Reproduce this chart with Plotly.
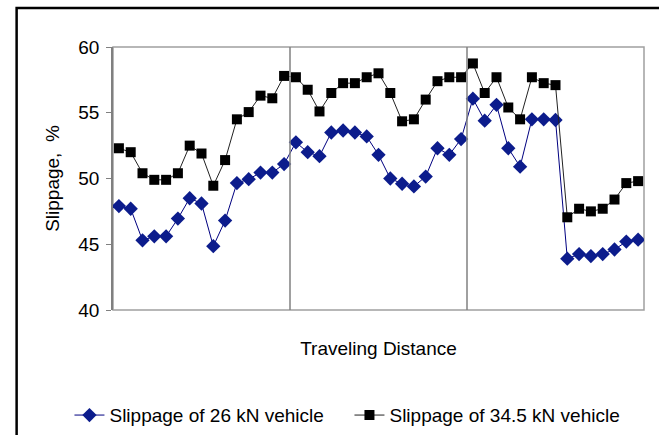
import plotly.graph_objects as go

distance_index = list(range(45))
slip_26kN = [47.9, 47.7, 45.3, 45.6, 45.6, 46.95, 48.5, 48.1, 44.85, 46.8, 49.65, 49.95, 50.45, 50.45, 51.1,
             52.75, 52.0, 51.7, 53.5, 53.65, 53.5, 53.2, 51.8, 50.0, 49.6, 49.4, 50.15, 52.3, 51.8, 53.0,
             56.07, 54.4, 55.6, 52.3, 50.9, 54.5, 54.5, 54.45, 43.9, 44.25, 44.1, 44.25, 44.6, 45.2, 45.35]
slip_34_5kN = [52.3, 52.0, 50.4, 49.9, 49.9, 50.4, 52.5, 51.9, 49.45, 51.4, 54.5, 55.05, 56.3, 56.1, 57.8,
               57.7, 56.75, 55.1, 56.5, 57.25, 57.25, 57.7, 58.0, 56.5, 54.35, 54.5, 56.0, 57.4, 57.7, 57.7,
               58.75, 56.5, 57.7, 55.4, 54.5, 57.7, 57.25, 57.1, 47.05, 47.7, 47.5, 47.7, 48.4, 49.65, 49.8]
y_ticks = [40, 45, 50, 55, 60]

FONT = "Liberation Sans, Arial, sans-serif"

fig = go.Figure()
fig.add_trace(go.Scatter(
    x=distance_index, y=slip_26kN, mode="lines+markers",
    name="Slippage of 26 kN vehicle",
    line=dict(color="#000080", width=1),
    marker=dict(symbol="diamond", size=11, color="#0c1c8c"),
))
fig.add_trace(go.Scatter(
    x=distance_index, y=slip_34_5kN, mode="lines+markers",
    name="Slippage of 34.5 kN vehicle",
    line=dict(color="#222222", width=1),
    marker=dict(symbol="square", size=10, color="#000000"),
))

# segment separators and plot-area frame
for fx in (1/3, 2/3):
    fig.add_shape(type="line", xref="x domain", yref="y domain", x0=fx, x1=fx, y0=0, y1=1,
                  line=dict(color="#808080", width=1.5))
fig.add_shape(type="rect", xref="paper", yref="paper", x0=0, x1=1, y0=0, y1=1,
              line=dict(color="#a0a0a0", width=1.5), layer="below")
# outer chart border
fig.add_shape(type="rect", xref="paper", yref="paper", x0=-0.1815, x1=1.06, y0=-0.53, y1=1.148,
              line=dict(color="#000000", width=2.5))

fig.update_layout(
    width=659, height=435,
    margin=dict(l=113, r=15, t=47, b=125, autoexpand=False),
    paper_bgcolor="white", plot_bgcolor="white",
    font=dict(family=FONT, size=19, color="#000000"),
    showlegend=True,
    legend=dict(orientation="h", x=-0.082, y=-0.40, xanchor="left", yanchor="middle",
                font=dict(family=FONT, size=19), bgcolor="rgba(0,0,0,0)",
                entrywidth=235, entrywidthmode="pixels", itemclick=False),
    xaxis=dict(range=[-0.5, 44.5], showticklabels=False, ticks="", showgrid=False,
               zeroline=False, showline=False, automargin=False,
               title=dict(text="Traveling Distance", standoff=31, font=dict(size=19))),
    yaxis=dict(range=[40, 60], tickvals=y_ticks, ticks="outside", ticklen=5, tickwidth=1,
               tickcolor="#808080", showgrid=False, zeroline=False, showline=True,
               linecolor="#808080", linewidth=1.5, ticklabelstandoff=3, automargin=False,
               title=dict(text="Slippage,  %", standoff=14, font=dict(size=19))),
)

fig.write_html("out.html", config={"displayModeBar": False},
               post_script="document.body.style.margin='0';")
